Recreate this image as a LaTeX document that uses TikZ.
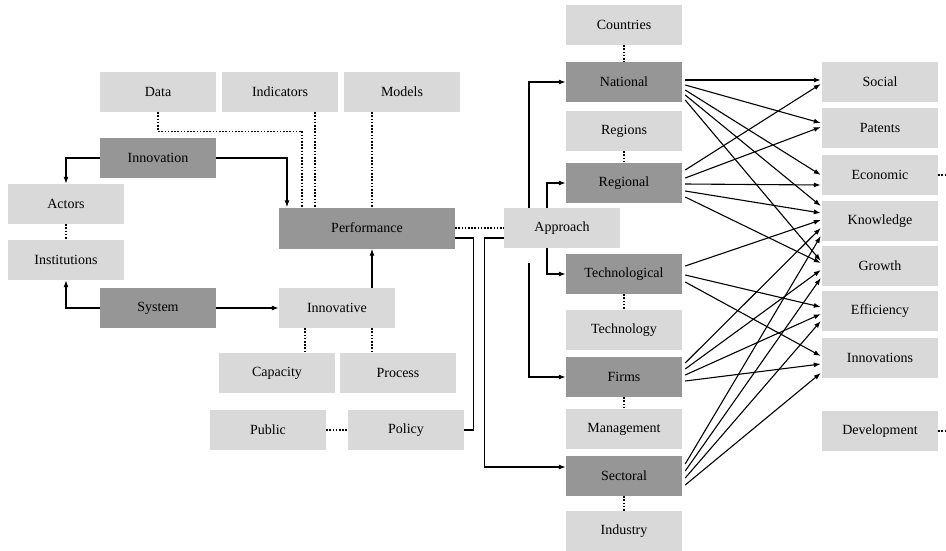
\documentclass[tikz,border=0pt]{standalone}
\usepackage{fontspec}
\setmainfont{Liberation Serif}
\usepackage{tikz}
\usetikzlibrary{calc,arrows.meta}

\definecolor{boxlight}{RGB}{217,217,217}
\definecolor{boxdark}{RGB}{150,150,150}

\begin{document}
\begin{tikzpicture}[x=1pt,y=-1pt,
  box/.style={minimum width=116,minimum height=40,inner sep=0pt,
    font=\fontsize{14}{16}\selectfont},
  light/.style={box,fill=boxlight},
  dark/.style={box,fill=boxdark},
  link/.style={->,line width=1.1pt},
  wire/.style={line width=1.1pt},
  dots/.style={line width=1.1pt,dash pattern=on 1.6pt off 1.6pt},
  >={Latex[length=7pt,width=5pt]}]
  \useasboundingbox (0,0) rectangle (946,550);

  % left part
  \node[light] (data) at (158,92) {Data};
  \node[light] (indicators) at (280,92) {Indicators};
  \node[light] (models) at (402,92) {Models};
  \node[dark] (innovation) at (158,158) {Innovation};
  \node[light] (actors) at (66,204) {Actors};
  \node[light] (institutions) at (66,260) {Institutions};
  \node[dark,minimum width=176,minimum height=41] (performance) at (367,228) {Performance};
  \node[dark] (system) at (158,308) {System};
  \node[light] (innovative) at (337,308) {Innovative};
  \node[light] (capacity) at (277,373) {Capacity};
  \node[light] (process) at (398,373) {Process};
  \node[light] (public) at (268,430) {Public};
  \node[light] (policy) at (406,430) {Policy};

  % middle column
  \node[light] (approach) at (562,228) {Approach};
  \node[light] (countries) at (624,25) {Countries};
  \node[dark] (national) at (624,82) {National};
  \node[light] (regions) at (624,131) {Regions};
  \node[dark] (regional) at (624,183) {Regional};
  \node[dark] (technological) at (624,274) {Technological};
  \node[light] (technology) at (624,330) {Technology};
  \node[dark] (firms) at (624,377) {Firms};
  \node[light] (management) at (624,429) {Management};
  \node[dark] (sectoral) at (624,476) {Sectoral};
  \node[light] (industry) at (624,531) {Industry};

  % right column
  \node[light] (social) at (880,82) {Social};
  \node[light] (patents) at (880,128) {Patents};
  \node[light] (economic) at (880,175) {Economic};
  \node[light] (knowledge) at (880,221) {Knowledge};
  \node[light] (growth) at (880,266) {Growth};
  \node[light] (efficiency) at (880,311) {Efficiency};
  \node[light] (innovations) at (880,358) {Innovations};
  \node[light] (development) at (880,431) {Development};
  \coordinate (econout) at (946,175);
  \coordinate (devout) at (946,431);
  \coordinate (firmsin) at (529,263);

  % solid connectors
  \draw[link] (innovation.west) -| (actors.north);
  \draw[link] (innovation.east) -| ($(performance.north)+(-80,0)$);
  \draw[link] (system.west) -| (institutions.south);
  \draw[link] (system.east) -- (innovative.west);
  \draw[link] ($(innovative.north)+(35,0)$) -- ($(performance.south)+(5,0)$);
  \draw[wire] (policy.east) -- ++(9,0) |- ($(performance.east)+(0,10)$);
  \draw[link] ($(approach.west)+(0,10)$) -- ++(-19,0) |- ($(sectoral.west)+(0,-9)$);
  \draw[link] ($(approach.north)+(-33,0)$) |- (national.west);
  \draw[link] ($(approach.north)+(-15,0)$) |- (regional.west);
  \draw[link] ($(approach.south)+(-15,0)$) |- (technological.west);
  \draw[link] (firmsin) |- (firms.west);

  % dotted connectors
  \draw[dots] (data.south) -- ++(0,19) -| ($(performance.north)+(-65,0)$);
  \draw[dots] ($(indicators.south)+(35,0)$) -- ($(performance.north)+(-52,0)$);
  \draw[dots] ($(models.south)+(-30,0)$) -- ($(performance.north)+(5,0)$);
  \draw[dots] (actors) -- (institutions);
  \draw[dots] ($(innovative.south)+(-32,0)$) -- ($(capacity.north)+(28,0)$);
  \draw[dots] ($(innovative.south)+(35,0)$) -- ($(process.north)+(-26,0)$);
  \draw[dots] (public) -- (policy);
  \draw[dots] (performance) -- (approach);
  \draw[dots] (countries) -- (national);
  \draw[dots] (regions) -- (regional);
  \draw[dots] (technological) -- (technology);
  \draw[dots] (firms) -- (management);
  \draw[dots] (sectoral) -- (industry);
  \draw[dots] (economic.east) -- (econout);
  \draw[dots] (development.east) -- (devout);

  % approaches to outcomes
  \foreach \src/\so/\tgt/\to in {
    national/-2/social/-2, national/3/patents/-5, national/8/economic/0,
    national/13/knowledge/-15, national/18/growth/-5,
    regional/-13/social/2, regional/-5/patents/-1, regional/1/economic/10,
    regional/8/knowledge/-8, regional/14/growth/-3,
    technological/-8/knowledge/-1, technological/1/efficiency/-4,
    technological/8/innovations/-2,
    firms/-14/knowledge/7, firms/-8/growth/4, firms/-2/efficiency/3,
    firms/4/innovations/6,
    sectoral/-12/knowledge/15, sectoral/-5/growth/12,
    sectoral/2/efficiency/10, sectoral/9/innovations/15}
    \draw[link] ($(\src.east)+(3,\so)$) -- ($(\tgt.west)+(-1,\to)$);
\end{tikzpicture}
\end{document}
